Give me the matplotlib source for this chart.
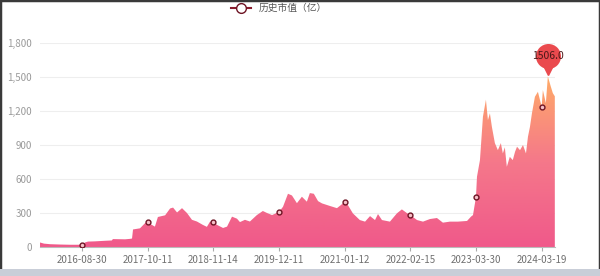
import matplotlib.pyplot as plt
import matplotlib.transforms as mtransforms
import numpy as np
from matplotlib.colors import LinearSegmentedColormap
from matplotlib.patches import Rectangle

plt.rcParams['font.family'] = ['Noto Sans CJK SC', 'DejaVu Sans']

# -------------------------
# Data (category index ~ trading day)
# -------------------------
day_idx = [0, 16, 40, 80, 121, 161, 169, 181, 193, 221, 261, 289, 293, 342, 362, 370,
           374, 402, 422, 433, 442, 462, 474, 503, 523, 535, 551, 571, 591, 611, 631,
           655, 671, 683, 697, 712, 736, 752, 772, 792, 804, 824, 844, 872, 896, 913,
           933, 961, 977, 997, 1013, 1033, 1053, 1073, 1085, 1101, 1118, 1134, 1166,
           1194, 1225, 1238, 1258, 1286, 1307, 1327, 1347, 1359, 1375, 1407, 1435,
           1455, 1475, 1489, 1516, 1540, 1568, 1596, 1620, 1648, 1680, 1717, 1733,
           1741, 1753, 1757, 1769, 1781, 1793, 1801, 1809, 1817, 1829, 1841, 1853,
           1861, 1869, 1877, 1889, 1901, 1910, 1918, 1930, 1942, 1954, 1962, 1970,
           1978, 1990, 2002, 2010, 2017, 2022, 2034, 2042, 2054, 2062, 2070]
market_cap = [40, 30, 25, 22, 20, 20, 20, 40, 48, 50, 55, 58, 70, 68, 72, 75,
              155, 165, 210, 225, 205, 180, 265, 280, 340, 348, 305, 343, 300, 240, 225,
              195, 178, 222, 218, 195, 168, 180, 268, 250, 220, 240, 225, 282, 318, 300,
              282, 310, 355, 470, 455, 387, 444, 400, 476, 470, 405, 385, 362,
              343, 397, 370, 297, 238, 224, 273, 238, 291, 238, 224, 297,
              332, 300, 282, 238, 224, 247, 256, 215, 224, 224, 230, 268,
              282, 441, 620, 767, 1150, 1300, 1120, 1180, 1060, 917, 855, 917,
              826, 880, 708, 796, 767, 840, 885, 855, 900, 826, 973, 1060,
              1180, 1326, 1370, 1300, 1240, 1385, 1270, 1506, 1415, 1358, 1330]

tick_idx = [169, 433, 697, 961, 1225, 1489, 1753, 2017]
tick_labels = ["2016-08-30", "2017-10-11", "2018-11-14", "2019-12-11",
               "2021-01-12", "2022-02-15", "2023-03-30", "2024-03-19"]

x = np.array(day_idx)
y = np.array(market_cap)
tick_vals = np.interp(tick_idx, x, y)
peak_i = int(np.argmax(y))

fig = plt.figure(figsize=(6, 2.76), dpi=100)
ax = fig.add_axes([0.0667, 0.105, 0.858, 0.739])

# gradient area
cmap = LinearSegmentedColormap.from_list("pk", ["#f0598a", "#f5788a", "#ffab68"])
poly = ax.fill_between(x, y, 0, color="none", lw=0)
grad = np.linspace(0, 1, 256).reshape(-1, 1)
im = ax.imshow(grad, extent=[x[0], x[-1], 0, y.max()], origin="lower",
               aspect="auto", cmap=cmap, zorder=2)
im.set_clip_path(poly.get_paths()[0], transform=ax.transData)

# markers at tick dates
ax.plot(tick_idx, tick_vals, "o", ms=3.5, mfc="#f7c0c8", mec="#6e1424", mew=1,
        zorder=4, label="历史市值（亿）")

# peak pin
tr_c = mtransforms.offset_copy(ax.transData, fig=fig, x=0, y=20, units="dots")
tr_v = mtransforms.offset_copy(ax.transData, fig=fig, x=0, y=7, units="dots")
ax.plot(x[peak_i], y[peak_i], marker="v", ms=9, color="#ea4a4e", transform=tr_v,
        zorder=5, clip_on=False)
ax.plot(x[peak_i], y[peak_i], marker="o", ms=18, color="#ea4a4e", mew=0,
        transform=tr_c, zorder=6, clip_on=False)
ax.text(x[peak_i], y[peak_i], f"{y[peak_i]:.1f}", transform=tr_c, ha="center",
        va="center", fontsize=7.5, color="#4a1818", zorder=7, clip_on=False)

ax.set_xlim(0, 2070)
ax.set_ylim(0, 1800)
ax.set_yticks(range(0, 1801, 300))
ax.set_yticklabels([f"{v:,}" for v in range(0, 1801, 300)])
ax.set_xticks(tick_idx)
ax.set_xticklabels(tick_labels)
ax.tick_params(axis="y", length=0, labelsize=7, labelcolor="#9a9a9a", pad=6)
ax.tick_params(axis="x", length=3, color="#aaaaaa", labelsize=7,
               labelcolor="#707070", pad=3)
ax.grid(axis="y", color="#eeeeee", lw=0.8, zorder=0)
for s in ["top", "right", "left"]:
    ax.spines[s].set_visible(False)
ax.spines["bottom"].set_color("#bbbbbb")

leg = fig.legend(loc="upper center", bbox_to_anchor=(0.465, 1.02), frameon=False,
                 fontsize=7, handlelength=2, labelcolor="#555555")
leg.get_lines()[0].set_linestyle("-")
leg.get_lines()[0].set_color("#8a1c2e")
leg.get_lines()[0].set_markerfacecolor("white")
leg.get_lines()[0].set_markersize(7)

# screenshot frame
fig.patches.append(Rectangle((0, 0), 1, 1, transform=fig.transFigure, fill=False,
                             ec="#3a3a3a", lw=2.5))
fig.patches.append(Rectangle((0, 0), 1, 0.025, transform=fig.transFigure,
                             fc="#c9ced8", ec="none"))

fig.savefig("out.png", dpi=100)
